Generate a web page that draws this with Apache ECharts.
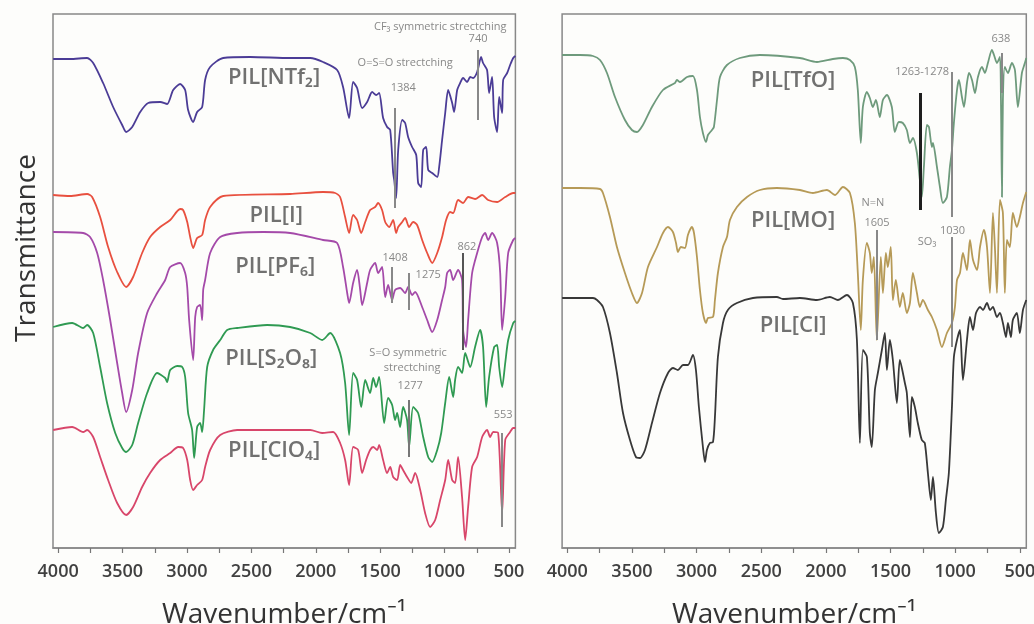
<!DOCTYPE html>
<html>
<head>
<meta charset="utf-8">
<script src="https://cdn.jsdelivr.net/npm/echarts@6/dist/echarts.min.js"></script>
<style>
html, body { margin: 0; padding: 0; background: #fdfdfb; }
#chart { width: 1034px; height: 624px; }
</style>
</head>
<body>
<div id="chart"></div>
<script>
// ---- axis ticks (cm-1) ----
const labelTicks = [4000, 3500, 3000, 2500, 2000, 1500, 1000, 500];
const allTicks = [4000, 3750, 3500, 3250, 3000, 2750, 2500, 2250, 2000, 1750, 1500, 1250, 1000, 750, 500];

// ---- FTIR spectra: [wavenumber cm-1, transmittance (a.u., stacked)] ----
const specNTf2 = [
  [4039,489],[3907,489],[3775,490],[3728,485],[3651,465],[3573,441],[3503,423],[3472,416],[3425,421],
  [3363,436],[3301,445],[3208,446],[3154,444],[3107,458],[3053,464],[3014,458],[2991,438],[2952,426],
  [2921,436],[2882,441],[2859,468],[2820,481],[2719,490],[2509,491],[2199,490],[2043,490],[1943,486],
  [1834,478],[1788,461],[1741,430],[1710,466],[1679,460],[1640,440],[1601,446],[1562,456],[1531,453],
  [1508,455],[1477,430],[1446,421],[1422,418],[1399,375],[1391,368],[1376,350],[1360,398],[1329,428],
  [1306,425],[1283,411],[1252,401],[1220,393],[1205,365],[1182,361],[1166,398],[1143,401],[1127,378],
  [1096,375],[1057,371],[1042,381],[1019,408],[995,435],[972,458],[941,445],[926,436],[902,458],
  [879,465],[856,470],[825,466],[801,471],[778,470],[747,476],[716,491],[701,485],[670,478],[654,455],
  [631,471],[615,431],[592,416],[576,451],[553,435],[545,468],[514,475],[491,483],[467,490],[450,492]
];
const specI = [
  [4039,353],[3907,352],[3775,354],[3736,351],[3674,331],[3612,301],[3542,276],[3472,261],[3418,271],
  [3348,295],[3286,311],[3208,321],[3130,328],[3053,339],[3030,338],[2998,326],[2975,311],[2952,300],
  [2921,310],[2882,313],[2859,328],[2820,341],[2719,352],[2199,354],[1943,356],[1849,355],[1811,351],
  [1772,331],[1741,315],[1710,333],[1679,328],[1647,315],[1616,326],[1578,338],[1539,341],[1516,345],
  [1485,338],[1461,326],[1430,321],[1399,328],[1376,315],[1360,321],[1329,326],[1306,330],[1275,321],
  [1244,326],[1213,323],[1174,308],[1135,295],[1096,285],[1057,295],[1019,311],[988,328],[957,336],
  [933,335],[895,348],[856,345],[817,351],[763,349],[708,353],[662,348],[592,346],[529,351],[467,355],[450,355]
];
const specPF6 = [
  [4039,316],[3806,315],[3752,311],[3697,295],[3651,268],[3596,228],[3542,185],[3503,155],[3472,136],
  [3425,158],[3379,195],[3309,235],[3231,255],[3169,268],[3130,281],[3053,285],[3014,275],[2998,261],
  [2983,228],[2952,188],[2936,231],[2921,241],[2898,243],[2882,228],[2874,258],[2859,268],[2820,295],
  [2742,311],[2610,315],[2408,316],[2199,315],[1943,308],[1834,305],[1788,281],[1756,255],[1741,245],
  [1710,265],[1679,278],[1655,258],[1640,243],[1601,265],[1578,278],[1539,285],[1516,275],[1485,281],
  [1461,251],[1438,263],[1407,248],[1384,258],[1345,260],[1306,255],[1283,261],[1252,253],[1228,256],
  [1174,241],[1135,228],[1096,216],[1057,228],[1019,248],[995,261],[980,275],[957,278],[933,268],
  [895,278],[864,268],[856,218],[833,201],[817,228],[786,275],[747,295],[708,311],[685,315],[662,308],
  [631,315],[592,305],[568,275],[553,218],[529,251],[506,295],[467,308],[450,310]
];
const specS2O8 = [
  [4039,221],[3891,225],[3806,220],[3775,223],[3728,215],[3674,181],[3620,145],[3557,115],[3503,100],
  [3472,96],[3425,103],[3379,125],[3309,155],[3231,175],[3169,170],[3154,166],[3130,178],[3076,182],
  [3037,181],[3014,171],[2991,135],[2960,118],[2944,90],[2921,121],[2898,125],[2882,116],[2867,138],
  [2843,181],[2797,198],[2742,208],[2688,218],[2610,220],[2377,223],[2199,221],[2043,215],[1950,208],
  [1888,215],[1811,195],[1772,165],[1741,113],[1710,175],[1679,168],[1647,141],[1616,168],[1578,155],
  [1554,170],[1531,161],[1508,171],[1469,125],[1438,150],[1407,143],[1384,128],[1368,135],[1345,121],
  [1322,141],[1291,128],[1275,101],[1244,141],[1205,135],[1166,111],[1127,91],[1096,86],[1057,98],
  [1026,115],[995,145],[964,171],[933,151],[918,168],[895,181],[864,175],[840,195],[801,181],[763,201],
  [724,218],[701,201],[677,141],[654,171],[615,201],[592,203],[576,181],[553,161],[529,185],[506,208],
  [467,225],[450,227]
];
const specClO4 = [
  [4039,118],[3891,121],[3806,116],[3775,118],[3728,111],[3674,91],[3612,68],[3542,45],[3472,33],
  [3418,41],[3348,61],[3286,75],[3208,88],[3130,95],[3068,101],[3030,100],[2998,88],[2975,68],
  [2952,58],[2921,63],[2882,68],[2859,81],[2820,98],[2742,113],[2610,118],[2199,118],[2043,118],
  [1950,115],[1865,116],[1811,105],[1772,88],[1741,63],[1710,101],[1671,98],[1640,75],[1609,88],
  [1578,98],[1554,101],[1523,98],[1508,103],[1477,88],[1446,75],[1422,81],[1399,71],[1368,68],
  [1345,83],[1322,78],[1291,71],[1259,65],[1228,75],[1189,58],[1151,35],[1112,21],[1073,28],[1034,48],
  [995,68],[972,88],[941,68],[918,65],[895,91],[864,51],[840,8],[817,41],[786,81],[747,91],[708,111],
  [670,118],[646,111],[623,116],[584,115],[553,35],[529,108],[491,116],[467,120],[450,120]
];
const specTfO = [
  [4040,493],[3902,493],[3801,492],[3747,488],[3693,475],[3631,451],[3554,428],[3500,418],[3461,416],
  [3415,423],[3345,441],[3260,458],[3167,465],[3152,468],[3128,466],[3074,471],[3028,472],[2997,458],
  [2974,431],[2951,415],[2927,406],[2912,413],[2881,418],[2866,421],[2842,448],[2819,471],[2765,483],
  [2665,490],[2510,493],[2201,490],[2069,486],[1946,489],[1868,490],[1814,488],[1776,481],[1753,458],
  [1730,405],[1714,441],[1683,456],[1660,450],[1637,441],[1613,448],[1583,431],[1559,448],[1528,453],
  [1490,441],[1467,416],[1436,426],[1405,425],[1374,418],[1350,405],[1327,410],[1296,395],[1273,368],
  [1258,351],[1242,381],[1219,423],[1203,421],[1180,401],[1172,405],[1141,381],[1118,361],[1095,345],
  [1064,351],[1041,381],[1025,398],[1010,425],[986,458],[971,468],[948,451],[932,441],[909,465],
  [893,475],[870,468],[847,455],[824,471],[793,481],[770,475],[747,485],[716,498],[700,493],[677,485],
  [654,491],[646,448],[638,351],[631,448],[616,481],[592,475],[561,485],[538,478],[515,441],[484,475],
  [461,485],[450,490]
];
const specMO = [
  [4040,360],[3902,360],[3747,359],[3724,355],[3670,331],[3616,301],[3554,275],[3500,255],[3461,245],
  [3422,255],[3376,281],[3306,301],[3260,315],[3221,321],[3183,316],[3159,305],[3144,296],[3121,301],
  [3090,300],[3067,313],[3036,321],[3020,315],[2997,291],[2974,258],[2951,235],[2927,225],[2912,230],
  [2873,231],[2858,248],[2835,275],[2796,301],[2765,311],[2742,328],[2688,341],[2610,351],[2510,358],
  [2379,360],[2201,358],[2100,355],[1992,358],[1930,353],[1868,361],[1814,355],[1776,325],[1753,275],
  [1730,218],[1714,268],[1683,305],[1660,295],[1645,275],[1629,291],[1606,208],[1575,291],[1559,255],
  [1536,295],[1521,281],[1498,301],[1482,248],[1459,268],[1428,241],[1405,255],[1374,235],[1350,245],
  [1327,275],[1296,255],[1273,241],[1250,248],[1211,238],[1180,231],[1141,218],[1103,201],[1064,215],
  [1025,225],[1002,241],[986,268],[963,275],[940,295],[909,278],[886,308],[862,288],[831,278],[808,301],
  [778,318],[754,301],[731,255],[708,335],[693,301],[677,255],[654,348],[631,335],[616,255],[600,308],
  [577,301],[554,335],[523,321],[500,331],[476,345],[450,356]
];
const specCl = [
  [4040,250],[3902,250],[3801,250],[3770,248],[3724,241],[3670,215],[3616,175],[3569,135],[3515,108],
  [3469,91],[3438,90],[3399,98],[3345,125],[3283,155],[3221,175],[3183,180],[3144,178],[3105,183],
  [3067,183],[3028,193],[3005,178],[2982,141],[2951,101],[2935,86],[2920,98],[2897,105],[2873,106],
  [2858,131],[2835,191],[2796,225],[2758,238],[2688,245],[2564,250],[2379,251],[2332,249],[2201,250],
  [2069,248],[1969,251],[1907,248],[1837,253],[1791,245],[1760,208],[1737,105],[1714,198],[1683,191],
  [1660,115],[1645,101],[1621,158],[1598,175],[1567,198],[1544,215],[1528,178],[1505,208],[1482,188],
  [1451,145],[1428,188],[1389,165],[1374,155],[1350,111],[1335,151],[1312,141],[1289,125],[1258,108],
  [1235,105],[1211,75],[1188,48],[1172,71],[1149,35],[1126,15],[1095,21],[1072,48],[1049,75],[1025,141],
  [1010,191],[986,208],[963,218],[940,168],[909,208],[886,231],[862,218],[839,235],[808,241],[785,238],
  [754,245],[731,238],[708,241],[677,231],[654,235],[631,225],[607,211],[592,225],[569,211],[554,228],
  [523,235],[500,215],[476,238],[450,248]
];

// ---- sample names ----
const leftNames = ['PIL[NTf₂]', 'PIL[I]', 'PIL[PF₆]', 'PIL[S₂O₈]', 'PIL[ClO₄]'];
const rightNames = ['PIL[TfO]', 'PIL[MO]', 'PIL[Cl]'];

// ---- band assignments (cm-1) ----
const leftBands = [1384, 740, 1408, 1275, 862, 1277, 553];
const rightBands = [638, 1270, 1030, 1605, 1030];

// ---------------- drawing ----------------
const leftSpectra = [specNTf2, specI, specPF6, specS2O8, specClO4];
const rightSpectra = [specTfO, specMO, specCl];
const leftColors = ['#4b3c96', '#e8503f', '#a44aa9', '#2f9a52', '#d8466a'];
const rightColors = ['#6e9a7c', '#b69a57', '#383838'];

// where each sample name sits (wavenumber, stacked transmittance)
const leftNameAnchors = [[2323, 470], [2307, 332], [2315, 281], [2346, 189], [2323, 97]];
const rightNameAnchors = [[2254, 467], [2254, 327], [2254, 222]];

// vertical band markers: [from, to] on the transmittance scale
const leftBandSpans = [[440, 340], [498, 428], [281, 245], [275, 238], [295, 198], [148, 91], [115, 21]];
const leftBandColors = ['#888', '#888', '#888', '#888', '#555', '#777', '#888'];
const rightBandSpans = [[495, 455], [455, 338], [476, 331], [318, 208], [311, 201]];
const rightBandColors = ['#888', '#1e1e1e', '#888', '#888', '#888'];
const rightBandWidths = [2, 3, 2, 2, 2];

// annotation texts
const leftNotes = [
  { text: 'CF₃ symmetric strectching', at: [1034, 521] },
  { text: '740', at: [740, 509] },
  { text: 'O=S=O strectching', at: [1306, 485] },
  { text: '1384', at: [1321, 460] },
  { text: '1408', at: [1384, 290] },
  { text: '1275', at: [1127, 273] },
  { text: '862', at: [826, 301] },
  { text: 'S=O symmetric', at: [1283, 195] },
  { text: 'strectching', at: [1252, 180] },
  { text: '1277', at: [1267, 162] },
  { text: '553', at: [545, 133] }
];
const rightNotes = [
  { text: '638', at: [646, 509] },
  { text: '1263-1278', at: [1256, 476] },
  { text: 'N=N', at: [1636, 345] },
  { text: '1605', at: [1605, 325] },
  { text: 'SO₃', at: [1218, 306] },
  { text: '1030', at: [1021, 317] }
];

const FONT = '"Open Sans", "Noto Sans", sans-serif';

function xAxisFor(gridIndex) {
  return {
    type: 'value', gridIndex, inverse: true, min: 450, max: 4040,
    name: 'Wavenumber/cm⁻¹', nameLocation: 'middle', nameGap: 53,
    nameTextStyle: { fontFamily: FONT, fontSize: 28, color: '#333' },
    axisLine: { show: true, lineStyle: { color: '#888', width: 1.5 } },
    axisTick: { show: true, customValues: allTicks, length: 5, lineStyle: { color: '#777', width: 1.2 } },
    axisLabel: {
      customValues: labelTicks, margin: 15, fontFamily: FONT, fontSize: 18, fontWeight: 600, color: '#404040',
      formatter: v => String(v)
    },
    splitLine: { show: false }
  };
}
function yAxisFor(gridIndex) {
  return { type: 'value', gridIndex, min: 0, max: 534, show: false };
}

function spectraSeries(list, colors, idx) {
  return list.map((d, i) => ({
    type: 'line', xAxisIndex: idx, yAxisIndex: idx, data: d,
    showSymbol: false, smooth: 0.25, silent: true, z: 3,
    lineStyle: { color: colors[i], width: 1.8 }
  }));
}
function bandSeries(bands, spans, colors, widths, idx) {
  return {
    type: 'line', xAxisIndex: idx, yAxisIndex: idx, data: [], silent: true, z: 4,
    markLine: {
      symbol: 'none', silent: true, animation: false, label: { show: false },
      data: bands.map((b, i) => [
        { coord: [b, spans[i][0]], lineStyle: { color: colors[i], width: widths ? widths[i] : 2, type: 'solid' } },
        { coord: [b, spans[i][1]] }
      ])
    }
  };
}
function textSeries(items, idx, style) {
  return {
    type: 'scatter', xAxisIndex: idx, yAxisIndex: idx, silent: true, z: 6,
    symbolSize: 0.1, itemStyle: { color: 'rgba(0,0,0,0)' },
    data: items.map(it => ({ value: it.at, name: it.text })),
    label: Object.assign({ show: true, position: 'inside', formatter: '{b}', fontFamily: FONT }, style)
  };
}

const gridBase = { top: 14, height: 534, show: true, borderColor: '#888', borderWidth: 1.5,
  backgroundColor: 'transparent', containLabel: false, outerBoundsMode: 'none' };

const option = {
  backgroundColor: '#fdfdfb',
  animation: false,
  grid: [
    Object.assign({ left: 53, width: 462.4 }, gridBase),
    Object.assign({ left: 562.1, width: 464.2 }, gridBase)
  ],
  xAxis: [xAxisFor(0), xAxisFor(1)],
  yAxis: [yAxisFor(0), yAxisFor(1)],
  graphic: [{
    type: 'text', x: 27, y: 248, rotation: Math.PI / 2,
    style: { text: 'Transmittance', font: '28px ' + FONT, fill: '#333', align: 'center', verticalAlign: 'middle' }
  }],
  series: [
    ...spectraSeries(leftSpectra, leftColors, 0),
    ...spectraSeries(rightSpectra, rightColors, 1),
    bandSeries(leftBands, leftBandSpans, leftBandColors, null, 0),
    bandSeries(rightBands, rightBandSpans, rightBandColors, rightBandWidths, 1),
    textSeries(leftNames.map((t, i) => ({ text: t, at: leftNameAnchors[i] })), 0,
      { fontSize: 22, fontWeight: 600, color: '#4d4d4d' }),
    textSeries(rightNames.map((t, i) => ({ text: t, at: rightNameAnchors[i] })), 1,
      { fontSize: 22, fontWeight: 600, color: '#4d4d4d' }),
    textSeries(leftNotes, 0, { fontSize: 11, color: '#6a6a6a' }),
    textSeries(rightNotes, 1, { fontSize: 11, color: '#6a6a6a' })
  ]
};

const chart = echarts.init(document.getElementById('chart'), null, { renderer: 'canvas' });
chart.setOption(option);
</script>
</body>
</html>
